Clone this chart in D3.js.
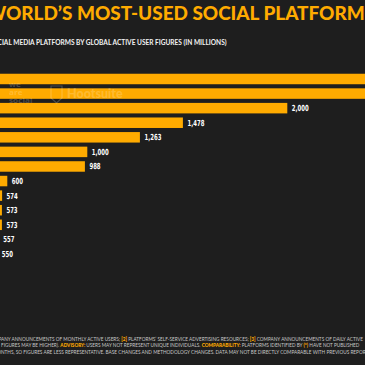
<!DOCTYPE html>
<html>
<head>
<meta charset="utf-8">
<script src="https://cdn.jsdelivr.net/npm/d3@7"></script>
<style>
  html, body { margin: 0; padding: 0; background: #1e1e1e; overflow: hidden; }
  svg { display: block; }
</style>
</head>
<body>
<div id="chart"></div>
<script>
// platforms ranked by active users (millions) -- only the visible rows
const platforms = ["Facebook", "YouTube", "WhatsApp", "Instagram", "WeChat", "TikTok",
  "Facebook Messenger", "Douyin", "QQ", "Sina Weibo", "Kuaishou", "Snapchat", "Telegram"];
const users = [2910, 2562, 2000, 1478, 1263, 1000, 988, 600, 574, 573, 573, 557, 550];

const title = "WORLD\u2019S MOST-USED SOCIAL PLATFORMS";
const subtitle = "RANKING OF SOCIAL MEDIA PLATFORMS BY GLOBAL ACTIVE USER FIGURES (IN MILLIONS)";
const notes = [
  [["COMPANY ANNOUNCEMENTS OF MONTHLY ACTIVE USERS; ", 0], ["[2]", 1], [" PLATFORMS\u2019 SELF-SERVICE ADVERTISING RESOURCES; ", 0], ["[3]", 1], [" COMPANY ANNOUNCEMENTS OF DAILY ACTIVE", 0]],
  [["FIGURES MAY BE HIGHER). ", 0], ["ADVISORY:", 1], [" USERS MAY NOT REPRESENT UNIQUE INDIVIDUALS. ", 0], ["COMPARABILITY:", 1], [" PLATFORMS IDENTIFIED BY ", 0], ["(*)", 1], [" HAVE NOT PUBLISHED", 0]],
  [["MONTHS, SO FIGURES ARE LESS REPRESENTATIVE. BASE CHANGES AND METHODOLOGY CHANGES. DATA MAY NOT BE DIRECTLY COMPARABLE WITH PREVIOUS REPORTS.", 0]]
];

const width = 365, height = 365;
const orange = "#ffab00";
const data = platforms.map((p, i) => ({ name: p, value: users[i] }));

const svg = d3.select("#chart").append("svg")
  .attr("width", width)
  .attr("height", height)
  .attr("viewBox", [0, 0, width, height]);

svg.append("rect").attr("width", width).attr("height", height).attr("fill", "#1e1e1e");

// chart is cropped: zero sits off the left edge
const x = d3.scaleLinear([0, 3000], [-112.7, 487.3]);
const y = d3.scaleBand(platforms, [71.7, 71.7 + platforms.length * 14.58])
  .paddingInner(0.28)
  .paddingOuter(0.14);

// squeeze/stretch a text horizontally so chars [from, to) land between x0 and x1
function fit(text, from, to, x0, x1, yy) {
  const node = text.node();
  const pre = from > 0 ? node.getSubStringLength(0, from) : 0;
  const part = node.getSubStringLength(from, to - from);
  const k = (x1 - x0) / part;
  text.attr("x", 0).attr("y", 0)
    .attr("transform", `translate(${x0 - pre * k},${yy}) scale(${k},1)`);
}

const t = svg.append("text")
  .attr("fill", orange)
  .attr("font-family", "Lato, 'Open Sans', sans-serif")
  .attr("font-weight", 900)
  .attr("font-size", 19.5)
  .text(title);
fit(t, 1, title.length - 1, 6, 365, 20);

const st = svg.append("text")
  .attr("fill", "#f2f2f2")
  .attr("font-family", "Lato, 'Open Sans', sans-serif")
  .attr("font-weight", 700)
  .attr("font-size", 6.8)
  .text(subtitle);
fit(st, subtitle.indexOf("IAL MEDIA"), subtitle.length, 2, 227, 45);

// bars
svg.append("g")
  .selectAll("rect")
  .data(data)
  .join("rect")
  .attr("x", x(0))
  .attr("y", d => y(d.name))
  .attr("width", d => x(d.value) - x(0))
  .attr("height", y.bandwidth())
  .attr("fill", orange);

// watermark
const wm = svg.append("g").attr("fill", "#fff").attr("fill-opacity", 0.2)
  .attr("font-family", "'Open Sans', sans-serif").attr("font-weight", 700);
["we", "are", "social"].forEach((w, i) => {
  wm.append("text").attr("x", 9).attr("y", 87 + i * 8).attr("font-size", 6.6)
    .attr("transform", `translate(9,0) scale(1.25,1) translate(-9,0)`).text(w);
});
wm.append("path")
  .attr("d", "M51,86 L62,86 L62,98 L56.5,103 L51,98 Z")
  .attr("fill", "none").attr("stroke", "#fff").attr("stroke-opacity", 0.2).attr("stroke-width", 1.2);
wm.append("text").attr("x", 67).attr("y", 98).attr("font-size", 12.5).attr("font-family", "Lato, sans-serif")
  .attr("font-weight", 900).text("Hootsuite");

// value labels, condensed
svg.append("g")
  .attr("fill", "#fff")
  .attr("font-family", "'Liberation Sans Narrow', 'DejaVu Sans Condensed', 'Roboto Condensed', sans-serif")
  .attr("font-weight", 700)
  .attr("font-size", 8.3)
  .selectAll("text")
  .data(data)
  .join("text")
  .attr("dy", "0.35em")
  .attr("transform", d => `translate(${x(d.value) + 4.5},${y(d.name) + y.bandwidth() / 2}) scale(0.72,1)`)
  .text(d => d3.format(",")(d.value));

// footnotes
const ends = [[4, 1, 362.7], [0, 1, 360], [2, 1, 372]];
notes.forEach((segs, i) => {
  const line = svg.append("text")
    .attr("fill", "#c8c8c8")
    .attr("font-family", "Lato, 'Open Sans', sans-serif")
    .attr("font-weight", 400)
    .attr("font-size", 5.2);
  segs.forEach(([s, hl]) => {
    line.append("tspan").text(s)
      .attr("fill", hl ? orange : null)
      .attr("font-weight", hl ? 900 : null);
  });
  const len = segs.reduce((a, s) => a + s[0].length, 0);
  fit(line, ends[i][0], len, ends[i][1], ends[i][2], 340.5 + i * 6.5);
});
</script>
</body>
</html>
